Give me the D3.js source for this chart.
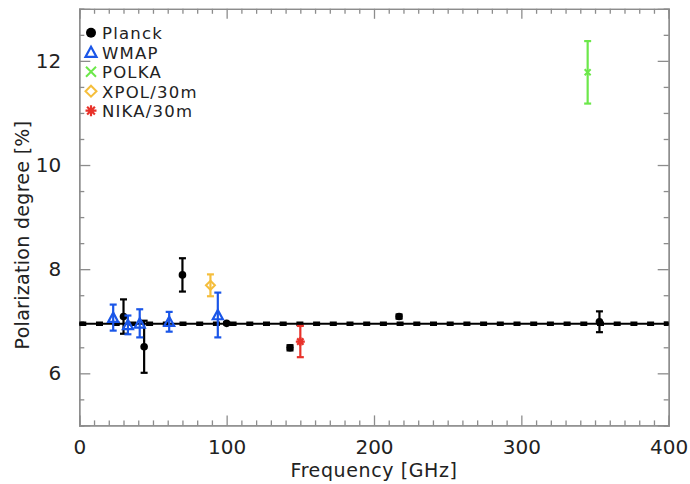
<!DOCTYPE html>
<html>
<head>
<meta charset="utf-8">
<script src="https://cdn.jsdelivr.net/npm/d3@7"></script>
<style>
  body { margin: 0; background: #fff; }
  text { font-family: "DejaVu Sans", sans-serif; fill: #222; }
  .axis path, .axis line { stroke: #8c8c8c; stroke-width: 1.3; }
</style>
</head>
<body>
<div id="chart"></div>
<script>
// Planck
var planckFreq = [30, 44, 70, 100, 143, 217, 353];
var planckPol = [7.09, 6.51, 7.89, 6.96, 6.49, 7.09, 6.99];
var planckErr = [0.33, 0.5, 0.32, 0.02, 0.05, 0.04, 0.2];
// WMAP
var wmapFreq = [23, 33, 41, 61, 94];
var wmapPol = [7.07, 6.93, 6.96, 6.99, 7.12];
var wmapErr = [0.25, 0.18, 0.27, 0.19, 0.43];
// POLKA
var polkaFreq = [345];
var polkaPol = [11.78];
var polkaErr = [0.6];
// XPOL/30m
var xpolFreq = [89];
var xpolPol = [7.69];
var xpolErr = [0.21];
// NIKA/30m
var nikaFreq = [150];
var nikaPol = [6.61];
var nikaErr = [0.3];
// mean polarization degree
var meanPol = 6.95;
var freqRange = [0, 400];
var polRange = [5, 13];
var xMajor = [0, 100, 200, 300, 400];
var yMajor = [6, 8, 10, 12];
var legendNames = ["Planck", "WMAP", "POLKA", "XPOL/30m", "NIKA/30m"];

var width = 690, height = 484;
var svg = d3.select("#chart").append("svg")
    .attr("width", width)
    .attr("height", height);

var x = d3.scaleLinear().domain(freqRange).range([79.3, 668.7]);
var y = d3.scaleLinear().domain(polRange).range([425.4, 8.8]);

var xMinor = d3.range(0, 401, 10).filter(function (d) { return d % 100 !== 0; });
var yMinor = d3.range(5, 13.01, 0.5).filter(function (d) { return yMajor.indexOf(d) < 0; });

// axes: ticks point inward on all four sides
function addAxis(axis, tx, ty) {
    svg.append("g").attr("class", "axis")
        .attr("transform", "translate(" + tx + "," + ty + ")")
        .call(axis);
}
addAxis(d3.axisBottom(x).tickValues(xMajor).tickSize(-10).tickPadding(14).tickFormat(d3.format("d")), 0, y(5));
addAxis(d3.axisBottom(x).tickValues(xMinor).tickSize(-5).tickFormat(""), 0, y(5));
addAxis(d3.axisTop(x).tickValues(xMajor).tickSize(-10).tickFormat(""), 0, y(13));
addAxis(d3.axisTop(x).tickValues(xMinor).tickSize(-5).tickFormat(""), 0, y(13));
addAxis(d3.axisLeft(y).tickValues(yMajor).tickSize(-11).tickPadding(18).tickFormat(d3.format("d")), x(0), 0);
addAxis(d3.axisLeft(y).tickValues(yMinor).tickSize(-5).tickFormat(""), x(0), 0);
addAxis(d3.axisRight(y).tickValues(yMajor).tickSize(-11).tickFormat(""), x(400), 0);
addAxis(d3.axisRight(y).tickValues(yMinor).tickSize(-5).tickFormat(""), x(400), 0);

svg.selectAll(".axis path").attr("stroke-width", 1.6);
svg.selectAll(".axis text").style("font-size", "20px").attr("fill", "#2a2a2a");

// axis titles
svg.append("text")
    .attr("x", (x(0) + x(400)) / 2)
    .attr("y", 477)
    .attr("text-anchor", "middle")
    .style("font-size", "19px")
    .style("letter-spacing", "0.6px")
    .text("Frequency [GHz]");
svg.append("text")
    .attr("transform", "translate(29,235) rotate(-90)")
    .attr("text-anchor", "middle")
    .style("font-size", "19px")
    .style("letter-spacing", "0.3px")
    .text("Polarization degree [%]");

// mean level: solid line + thick dashes
svg.append("line")
    .attr("x1", x(0)).attr("x2", x(400))
    .attr("y1", y(meanPol)).attr("y2", y(meanPol))
    .attr("stroke", "#000").attr("stroke-width", 2);
svg.append("line")
    .attr("x1", x(0)).attr("x2", x(400))
    .attr("y1", y(meanPol)).attr("y2", y(meanPol))
    .attr("stroke", "#000").attr("stroke-width", 4.5)
    .attr("stroke-dasharray", "7,9.7");

function zip(f, p, e) {
    return f.map(function (d, i) { return { f: d, p: p[i], e: e[i] }; });
}

function errorBars(data, color) {
    var g = svg.append("g").attr("stroke", color).attr("stroke-width", 2.2).attr("fill", "none");
    data.forEach(function (d) {
        var cx = x(d.f);
        g.append("line").attr("x1", cx).attr("x2", cx).attr("y1", y(d.p - d.e)).attr("y2", y(d.p + d.e));
        g.append("line").attr("x1", cx - 3.5).attr("x2", cx + 3.5).attr("y1", y(d.p - d.e)).attr("y2", y(d.p - d.e));
        g.append("line").attr("x1", cx - 3.5).attr("x2", cx + 3.5).attr("y1", y(d.p + d.e)).attr("y2", y(d.p + d.e));
    });
}

// marker shapes
var sym = {
    circle: function (g, cx, cy, s) {
        g.append("circle").attr("cx", cx).attr("cy", cy).attr("r", s).attr("fill", "#000");
    },
    triangle: function (g, cx, cy, s, c) {
        g.append("path").attr("d", "M" + cx + "," + (cy - s) + "L" + (cx + s) + "," + (cy + s * 0.85) +
            "L" + (cx - s) + "," + (cy + s * 0.85) + "Z")
            .attr("fill", "none").attr("stroke", c).attr("stroke-width", 2.2);
    },
    cross: function (g, cx, cy, s, c) {
        g.append("path").attr("d", "M" + (cx - s) + "," + (cy - s) + "L" + (cx + s) + "," + (cy + s) +
            "M" + (cx - s) + "," + (cy + s) + "L" + (cx + s) + "," + (cy - s))
            .attr("stroke", c).attr("stroke-width", 2);
    },
    diamond: function (g, cx, cy, s, c) {
        g.append("path").attr("d", "M" + cx + "," + (cy - s) + "L" + (cx + s) + "," + cy +
            "L" + cx + "," + (cy + s) + "L" + (cx - s) + "," + cy + "Z")
            .attr("fill", "none").attr("stroke", c).attr("stroke-width", 2);
    },
    star: function (g, cx, cy, s, c) {
        var d = "";
        for (var k = 0; k < 4; k++) {
            var a = k * Math.PI / 4;
            d += "M" + (cx - s * Math.cos(a)) + "," + (cy - s * Math.sin(a)) +
                "L" + (cx + s * Math.cos(a)) + "," + (cy + s * Math.sin(a));
        }
        g.append("path").attr("d", d).attr("stroke", c).attr("stroke-width", 2.2);
    }
};

var series = [
    { data: zip(planckFreq, planckPol, planckErr), color: "#000000", shape: "circle", size: 3.8, lsize: 5 },
    { data: zip(wmapFreq, wmapPol, wmapErr), color: "#1a56e8", shape: "triangle", size: 5, lsize: 5.5 },
    { data: zip(polkaFreq, polkaPol, polkaErr), color: "#6ce84a", shape: "cross", size: 3, lsize: 5 },
    { data: zip(xpolFreq, xpolPol, xpolErr), color: "#f5be3c", shape: "diamond", size: 4.5, lsize: 5.5 },
    { data: zip(nikaFreq, nikaPol, nikaErr), color: "#e8322a", shape: "star", size: 4.5, lsize: 5.5 }
];

series.forEach(function (s) {
    errorBars(s.data, s.color);
    var g = svg.append("g");
    s.data.forEach(function (d) {
        sym[s.shape](g, x(d.f), y(d.p), s.size, s.color);
    });
});

// legend
var legend = svg.append("g");
series.forEach(function (s, i) {
    var ly = 32.7 + i * 19.5;
    sym[s.shape](legend, 91, ly, s.lsize, s.color);
    legend.append("text")
        .attr("x", 102)
        .attr("y", ly + 6.5)
        .style("font-size", "16.5px")
        .style("letter-spacing", "1.2px")
        .text(legendNames[i]);
});
</script>
</body>
</html>
